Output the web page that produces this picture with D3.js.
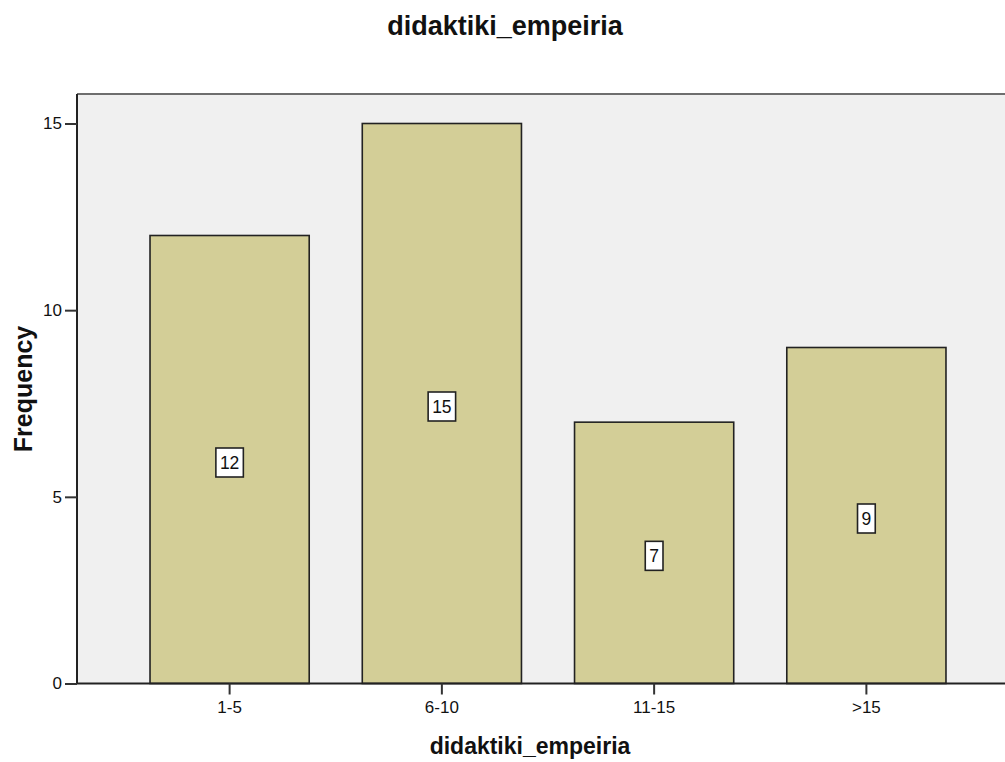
<!DOCTYPE html>
<html>
<head>
<meta charset="utf-8">
<script src="https://cdn.jsdelivr.net/npm/d3@7"></script>
<style>
  html, body { margin: 0; padding: 0; background: #ffffff; }
  svg { display: block; font-family: "Liberation Sans", Arial, sans-serif; }
</style>
</head>
<body>
<svg id="chart" width="1005" height="762"></svg>
<script>
const categories = ["1-5", "6-10", "11-15", ">15"];
const frequencies = [12, 15, 7, 9];
const yTicks = [0, 5, 10, 15];
const chartTitle = "didaktiki_empeiria";
const xTitle = "didaktiki_empeiria";
const yTitle = "Frequency";

const svg = d3.select("#chart");
const plot = { left: 77, top: 94, bottom: 683.5, right: 1019 };

const x = d3.scaleBand()
  .domain(categories)
  .range([plot.left, plot.right])
  .paddingInner(0.25)
  .paddingOuter(0.344);

const y = d3.scaleLinear()
  .domain([0, 15])
  .range([plot.bottom, 123.5]);

// background
svg.append("rect")
  .attr("x", plot.left).attr("y", plot.top)
  .attr("width", plot.right - plot.left).attr("height", plot.bottom - plot.top)
  .attr("fill", "#f0f0f0");

// top border
svg.append("line")
  .attr("x1", plot.left).attr("x2", plot.right)
  .attr("y1", plot.top).attr("y2", plot.top)
  .attr("stroke", "#6e6e6e").attr("stroke-width", 2);

// bars
svg.append("g").selectAll("rect")
  .data(frequencies)
  .join("rect")
  .attr("x", (d, i) => x(categories[i]))
  .attr("y", d => y(d))
  .attr("width", x.bandwidth())
  .attr("height", d => plot.bottom - y(d))
  .attr("fill", "#d3ce97")
  .attr("stroke", "#222")
  .attr("stroke-width", 1.6);

// y axis
const yAxis = svg.append("g")
  .attr("transform", `translate(${plot.left},0)`)
  .call(d3.axisLeft(y).tickValues(yTicks).tickSize(12).tickPadding(3).tickFormat(d3.format("d")));
yAxis.select(".domain").attr("stroke", "#222").attr("stroke-width", 2).attr("d", `M0,${plot.top}V${plot.bottom}`);
yAxis.selectAll(".tick line").attr("stroke", "#333").attr("stroke-width", 2);
yAxis.selectAll(".tick text").attr("font-size", 17).attr("fill", "#111")
  .attr("font-family", "Liberation Sans, Arial, sans-serif");

// x axis
const xAxis = svg.append("g")
  .attr("transform", `translate(0,${plot.bottom})`)
  .call(d3.axisBottom(x).tickSize(11).tickPadding(6));
xAxis.select(".domain").attr("stroke", "#222").attr("stroke-width", 2).attr("d", `M${plot.left},0H${plot.right}`);
xAxis.selectAll(".tick line").attr("stroke", "#333").attr("stroke-width", 2);
xAxis.selectAll(".tick text").attr("font-size", 17).attr("fill", "#111")
  .attr("font-family", "Liberation Sans, Arial, sans-serif");

// value labels
const labels = svg.append("g").selectAll("g")
  .data(frequencies)
  .join("g")
  .attr("transform", (d, i) => `translate(${x(categories[i]) + x.bandwidth() / 2},${y(d / 2) + 3})`);
labels.append("text")
  .attr("text-anchor", "middle")
  .attr("dy", "0.36em")
  .attr("font-size", 17.5)
  .attr("fill", "#111")
  .text(d => d);
labels.each(function() {
  const g = d3.select(this);
  const bb = g.select("text").node().getBBox();
  const w = bb.width + 8, h = 29;
  g.insert("rect", "text")
    .attr("x", -w / 2).attr("y", -h / 2)
    .attr("width", w).attr("height", h)
    .attr("fill", "#ffffff")
    .attr("stroke", "#222")
    .attr("stroke-width", 1.6);
});

// titles
svg.append("text")
  .attr("x", 505).attr("y", 35)
  .attr("text-anchor", "middle")
  .attr("font-size", 27).attr("font-weight", "bold").attr("fill", "#111")
  .text(chartTitle);

svg.append("text")
  .attr("x", 530).attr("y", 754)
  .attr("text-anchor", "middle")
  .attr("font-size", 23).attr("font-weight", "bold").attr("fill", "#111")
  .text(xTitle);

svg.append("text")
  .attr("transform", "translate(32,389) rotate(-90)")
  .attr("text-anchor", "middle")
  .attr("font-size", 25).attr("font-weight", "bold").attr("fill", "#111")
  .text(yTitle);
</script>
</body>
</html>
